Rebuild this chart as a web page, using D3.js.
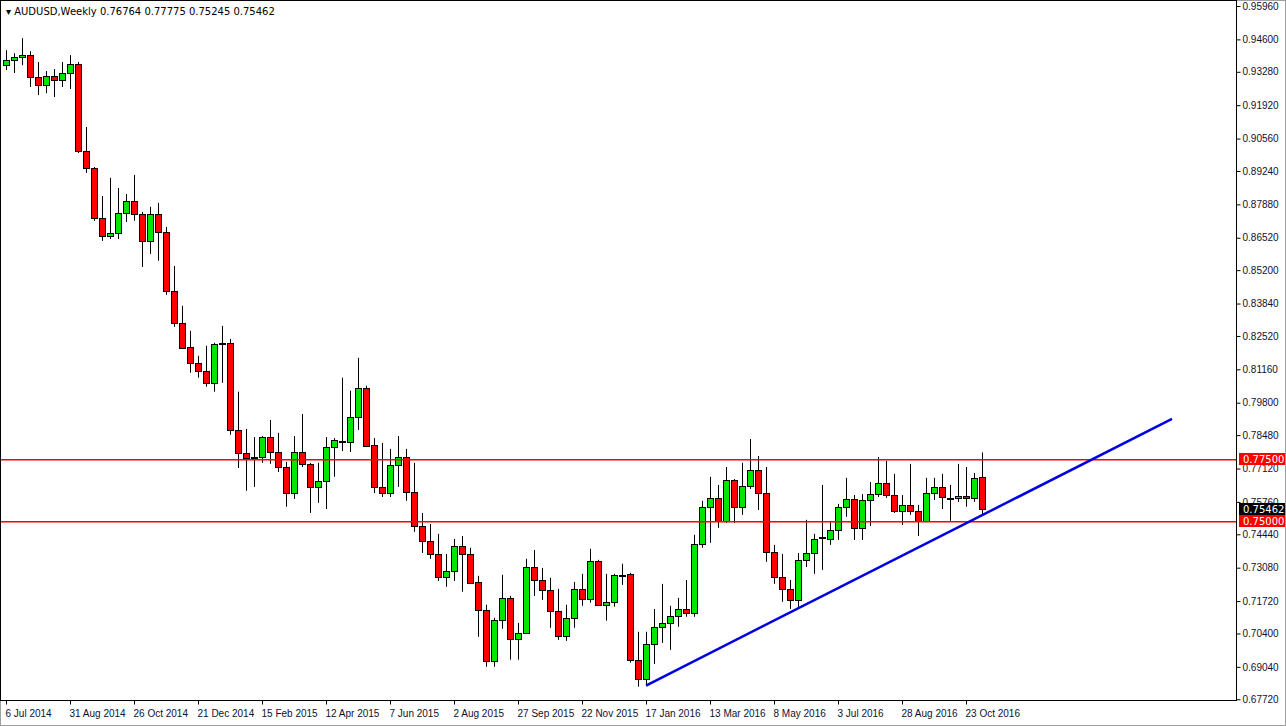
<!DOCTYPE html>
<html>
<head>
<meta charset="utf-8">
<script src="https://cdn.jsdelivr.net/npm/d3@7"></script>
<style>
  body { margin: 0; background: #fff; }
  svg { display: block; font-family: "DejaVu Sans", Verdana, sans-serif; }
</style>
</head>
<body>
<svg width="1286" height="726"></svg>
<script>
// Weekly AUDUSD candles, first week 6 Jul 2014.
const opens = [
  0.9355, 0.9376, 0.9388, 0.9396, 0.9307, 0.9274, 0.9311, 0.9294, 0.9323, 0.9360,
  0.9005, 0.8936, 0.8733, 0.8659, 0.8672, 0.8753, 0.8802, 0.8749, 0.8639, 0.8749,
  0.8676, 0.8436, 0.8305, 0.8208, 0.8143, 0.8110, 0.8061, 0.8222, 0.8224, 0.7869,
  0.7775, 0.7759, 0.7759, 0.7840, 0.7779, 0.7718, 0.7612, 0.7779, 0.7731, 0.7637,
  0.7661, 0.7800, 0.7824, 0.7820, 0.7922, 0.8041, 0.7808, 0.7637, 0.7612, 0.7726,
  0.7759, 0.7617, 0.7478, 0.7417, 0.7364, 0.7271, 0.7295, 0.7397, 0.7364, 0.7250,
  0.7136, 0.6929, 0.7096, 0.7185, 0.7018, 0.7043, 0.7311, 0.7258, 0.7218, 0.7132,
  0.7030, 0.7104, 0.7222, 0.7181, 0.7336, 0.7157, 0.7169, 0.7279, 0.7283, 0.6933,
  0.6855, 0.6998, 0.7067, 0.7083, 0.7112, 0.7140, 0.7124, 0.7405, 0.7556, 0.7592,
  0.7499, 0.7665, 0.7556, 0.7641, 0.7706, 0.7612, 0.7372, 0.7271, 0.7222, 0.7177,
  0.7340, 0.7368, 0.7431, 0.7425, 0.7462, 0.7556, 0.7588, 0.7470, 0.7584, 0.7608,
  0.7653, 0.7604, 0.7539, 0.7564, 0.7539, 0.7499, 0.7612, 0.7637, 0.7592, 0.7592,
  0.7600, 0.7592, 0.76764
];
const highs = [
  0.9416, 0.9404, 0.9465, 0.9412, 0.9368, 0.9331, 0.9339, 0.9368, 0.9396, 0.9368,
  0.9103, 0.8940, 0.8822, 0.8896, 0.8855, 0.8830, 0.8908, 0.8757, 0.8778, 0.8794,
  0.8696, 0.8537, 0.8375, 0.8273, 0.8171, 0.8212, 0.8224, 0.8293, 0.8240, 0.8025,
  0.7873, 0.7840, 0.7844, 0.7910, 0.7857, 0.7739, 0.7844, 0.7934, 0.7735, 0.7735,
  0.7840, 0.7836, 0.8082, 0.8029, 0.8163, 0.8049, 0.7836, 0.7816, 0.7792, 0.7844,
  0.7792, 0.7735, 0.7531, 0.7486, 0.7446, 0.7364, 0.7425, 0.7437, 0.7389, 0.7275,
  0.7157, 0.7104, 0.7279, 0.7193, 0.7083, 0.7344, 0.7380, 0.7307, 0.7267, 0.7222,
  0.7157, 0.7250, 0.7283, 0.7385, 0.7340, 0.7283, 0.7283, 0.7324, 0.7287, 0.7047,
  0.7047, 0.7140, 0.7242, 0.7153, 0.7185, 0.7258, 0.7442, 0.7580, 0.7678, 0.7645,
  0.7718, 0.7669, 0.7735, 0.7832, 0.7763, 0.7718, 0.7401, 0.7364, 0.7258, 0.7368,
  0.7503, 0.7446, 0.7645, 0.7494, 0.7568, 0.7674, 0.7604, 0.7608, 0.7657, 0.7759,
  0.7743, 0.7690, 0.7604, 0.7731, 0.7564, 0.7674, 0.7674, 0.7690, 0.7645, 0.7731,
  0.7718, 0.7694, 0.77775
];
const lows = [
  0.9335, 0.9323, 0.9355, 0.9266, 0.9233, 0.9241, 0.9225, 0.9266, 0.9258, 0.8997,
  0.8916, 0.8721, 0.8639, 0.8647, 0.8647, 0.8716, 0.8721, 0.8533, 0.8586, 0.8558,
  0.8419, 0.8289, 0.8200, 0.8102, 0.8082, 0.8045, 0.8025, 0.8061, 0.7849, 0.7714,
  0.7621, 0.7637, 0.7735, 0.7731, 0.7698, 0.7556, 0.7588, 0.7718, 0.7531, 0.7572,
  0.7547, 0.7678, 0.7783, 0.7779, 0.7869, 0.7800, 0.7612, 0.7596, 0.7596, 0.7637,
  0.7580, 0.7454, 0.7368, 0.7344, 0.7254, 0.7230, 0.7254, 0.7210, 0.7242, 0.7026,
  0.6904, 0.6904, 0.7059, 0.6933, 0.6933, 0.7043, 0.7193, 0.7177, 0.7063, 0.7014,
  0.7010, 0.7063, 0.7153, 0.7165, 0.7153, 0.7092, 0.7149, 0.7238, 0.6921, 0.6823,
  0.6831, 0.6916, 0.7002, 0.6973, 0.7067, 0.7108, 0.7108, 0.7389, 0.7409, 0.7470,
  0.7490, 0.7490, 0.7523, 0.7629, 0.7543, 0.7332, 0.7242, 0.7169, 0.7140, 0.7140,
  0.7311, 0.7283, 0.7299, 0.7401, 0.7421, 0.7515, 0.7421, 0.7421, 0.7478, 0.7596,
  0.7592, 0.7531, 0.7482, 0.7523, 0.7437, 0.7496, 0.7584, 0.7547, 0.7499, 0.7576,
  0.7556, 0.7576, 0.75245
];
const closes = [
  0.9376, 0.9388, 0.9396, 0.9307, 0.9274, 0.9311, 0.9294, 0.9323, 0.9360, 0.9005,
  0.8936, 0.8733, 0.8659, 0.8672, 0.8753, 0.8802, 0.8749, 0.8639, 0.8749, 0.8676,
  0.8436, 0.8305, 0.8204, 0.8143, 0.8110, 0.8061, 0.8220, 0.8220, 0.7869, 0.7775,
  0.7755, 0.7757, 0.7840, 0.7779, 0.7718, 0.7612, 0.7779, 0.7731, 0.7637, 0.7661,
  0.7800, 0.7828, 0.7822, 0.7922, 0.8041, 0.7804, 0.7637, 0.7612, 0.7726, 0.7759,
  0.7617, 0.7478, 0.7417, 0.7364, 0.7271, 0.7295, 0.7397, 0.7364, 0.7246, 0.7136,
  0.6929, 0.7096, 0.7185, 0.7018, 0.7043, 0.7311, 0.7258, 0.7218, 0.7132, 0.7030,
  0.7104, 0.7222, 0.7181, 0.7336, 0.7157, 0.7169, 0.7279, 0.7277, 0.6933, 0.6855,
  0.6998, 0.7067, 0.7083, 0.7112, 0.7140, 0.7124, 0.7405, 0.7556, 0.7592, 0.7499,
  0.7665, 0.7556, 0.7641, 0.7706, 0.7612, 0.7372, 0.7271, 0.7222, 0.7177, 0.7340,
  0.7368, 0.7425, 0.7429, 0.7462, 0.7556, 0.7588, 0.7470, 0.7584, 0.7608, 0.7653,
  0.7604, 0.7539, 0.7564, 0.7539, 0.7499, 0.7612, 0.7637, 0.7596, 0.7590, 0.7600,
  0.7592, 0.7674, 0.75462
];

const priceTicks = [0.9596, 0.946, 0.9328, 0.9192, 0.9056, 0.8924, 0.8788, 0.8652,
  0.852, 0.8384, 0.8252, 0.8116, 0.798, 0.7848, 0.7712, 0.7576, 0.7444, 0.7308,
  0.7172, 0.704, 0.6904, 0.6772];
const dateTickIndex = [0, 8, 16, 24, 32, 40, 48, 56, 64, 72, 80, 88, 96, 104, 112, 120];
const dateTickLabels = ["6 Jul 2014", "31 Aug 2014", "26 Oct 2014", "21 Dec 2014",
  "15 Feb 2015", "12 Apr 2015", "7 Jun 2015", "2 Aug 2015", "27 Sep 2015",
  "22 Nov 2015", "17 Jan 2016", "13 Mar 2016", "8 May 2016", "3 Jul 2016",
  "28 Aug 2016", "23 Oct 2016"];
const levels = [0.775, 0.75];
const trendIndex = [80, 145.75];
const trendPrice = [0.6828, 0.7914];

const svg = d3.select("svg");
const W = 1236, H = 700;

const x = d3.scaleLinear().domain([-0.75, 153.75]).range([0, W]);
const y = d3.scaleLinear().domain([0.6769, 0.9596]).range([H, 6]);

// Frame
svg.append("rect").attr("x", 0.5).attr("y", 0.5).attr("width", 1285).attr("height", 725)
  .attr("fill", "#fff").attr("stroke", "#a0a0a0");
svg.append("rect").attr("x", 0.5).attr("y", 0.5).attr("width", W).attr("height", H)
  .attr("fill", "none").attr("stroke", "#000");

// Right price axis
const yAxis = d3.axisRight(y).tickValues(priceTicks).tickSize(4)
  .tickFormat(d3.format(".5f"));
svg.append("g").attr("transform", `translate(${W + 0.5},0)`).call(yAxis)
  .call(s => s.select(".domain").remove())
  .call(s => s.selectAll("text").attr("font-size", 10).attr("fill", "#101030").attr("x", 6));

// Bottom date axis
const xAxis = d3.axisBottom(x).tickValues(dateTickIndex).tickSize(4)
  .tickFormat((d, i) => dateTickLabels[i]);
svg.append("g").attr("transform", `translate(0,${H + 0.5})`).call(xAxis)
  .call(s => s.select(".domain").remove())
  .call(s => s.selectAll("text").attr("font-size", 10).attr("fill", "#101030")
    .attr("text-anchor", "start").attr("x", -1).attr("dy", "0.9em"));

// Candles
const candles = opens.map((o, i) => ({ i, o, h: highs[i], l: lows[i], c: closes[i] }));
const cg = svg.append("g");
cg.selectAll("line").data(candles).join("line")
  .attr("x1", d => Math.round(x(d.i)) + 0.5).attr("x2", d => Math.round(x(d.i)) + 0.5)
  .attr("y1", d => y(d.h)).attr("y2", d => y(d.l))
  .attr("stroke", "#000");
cg.selectAll("rect").data(candles).join("rect")
  .attr("x", d => Math.round(x(d.i)) - 2.5)
  .attr("y", d => Math.round(y(Math.max(d.o, d.c))) + 0.5)
  .attr("width", 6)
  .attr("height", d => Math.max(1, Math.round(Math.abs(y(d.o) - y(d.c)))))
  .attr("fill", d => d.c >= d.o ? "#00e600" : "#ff0000")
  .attr("stroke", "#000");

// Horizontal levels (drawn as filled strips)
const lg = svg.append("g");
lg.selectAll("rect").data(levels).join("rect")
  .attr("x", 1).attr("width", W - 1)
  .attr("y", d => Math.round(y(d))).attr("height", 1.5)
  .attr("fill", "#ff0000");

// Trend line
svg.append("line")
  .attr("x1", x(trendIndex[0])).attr("y1", y(trendPrice[0]))
  .attr("x2", x(trendIndex[1])).attr("y2", y(trendPrice[1]))
  .attr("stroke", "#0000e0").attr("stroke-width", 2.5);

// Price labels on the axis
const tags = [
  { v: 0.775, text: "0.77500", bg: "#ff0000" },
  { v: closes[closes.length - 1], text: "0.75462", bg: "#000" },
  { v: 0.75, text: "0.75000", bg: "#ff0000" }
];
const tg = svg.selectAll("g.tag").data(tags).join("g").attr("class", "tag")
  .attr("transform", d => `translate(${W + 3},${Math.round(y(d.v))})`);
tg.append("rect").attr("x", 0).attr("y", -6).attr("width", 46).attr("height", 12)
  .attr("fill", d => d.bg);
tg.append("text").attr("x", 4).attr("y", 4).attr("font-size", 10)
  .attr("fill", "#fff").text(d => d.text);

// Title
svg.append("text").attr("x", 6).attr("y", 15).attr("font-size", 10)
  .text("▾ AUDUSD,Weekly  0.76764 0.77775 0.75245 0.75462");
</script>
</body>
</html>
